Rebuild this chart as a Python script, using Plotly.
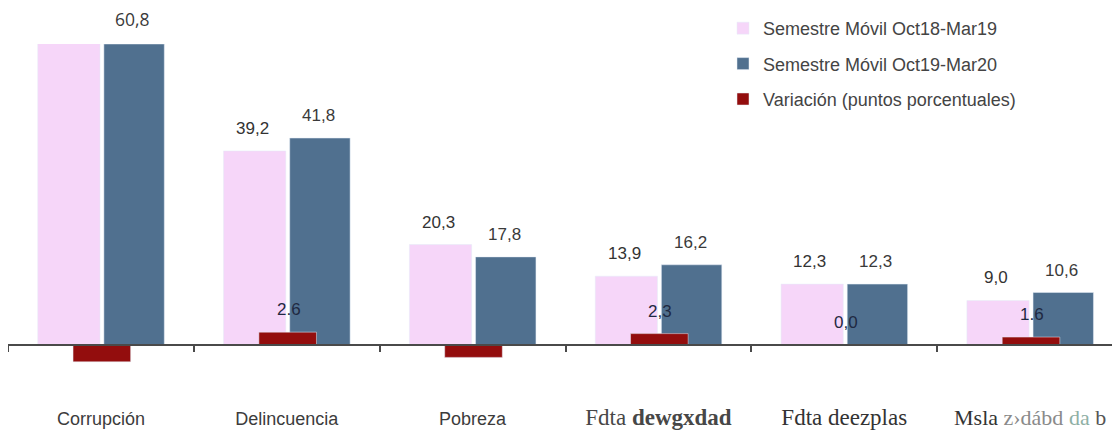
import plotly.graph_objects as go

categories = ["Corrupción", "Delincuencia", "Pobreza", "Fdta dewgxdad", "Fdta deezplas", "Msla z›dábd da b"]
tick_labels = [
    "Corrupción",
    "Delincuencia",
    "Pobreza",
    '<span style="font-family:Liberation Serif;font-size:23px;color:#474747">Fdta <b>dewgxdad</b></span>',
    '<span style="font-family:Liberation Serif;font-size:23px;color:#333">Fdta deezplas</span>',
    '<span style="font-family:Liberation Serif;font-size:22px;color:#333">Msla <span style="color:#8a8a8a">z›dábd</span> <span style="color:#8fb0a5">da</span> <span style="color:#555">b</span></span>',
]
series_names = ["Semestre Móvil Oct18-Mar19", "Semestre Móvil Oct19-Mar20", "Variación (puntos porcentuales)"]
prev_values = [64.2, 39.2, 20.3, 13.9, 12.3, 9.0]
curr_values = [60.8, 41.8, 17.8, 16.2, 12.3, 10.6]
var_values = [-3.4, 2.6, -2.5, 2.3, 0.0, 1.6]
prev_labels = ["", "39,2", "20,3", "13,9", "12,3", "9,0"]
curr_labels = ["60,8", "41,8", "17,8", "16,2", "12,3", "10,6"]
var_labels = ["", "2.6", "", "2,3", "0,0", "1.6"]

PINK = "#f6d6f9"
BLUE = "#50708f"
RED = "#930d0d"

# the page body adds an 8px offset; margins below compensate for it
TOP, PLOT_H = 36, 398
Y_MAX = 60.8
Y_MIN = -Y_MAX * 97 / 301

fig = go.Figure()
fig.add_trace(go.Bar(x=categories, y=prev_values, name=series_names[0], marker_color=PINK,
                     offset=-0.34, width=0.335, legendgroup="a", hoverinfo="skip"))
fig.add_trace(go.Bar(x=categories, y=curr_values, name=series_names[1], marker_color=BLUE,
                     offset=0.016, width=0.325, legendgroup="b", hoverinfo="skip"))
fig.add_trace(go.Bar(x=categories, y=var_values, name=series_names[2], marker_color=RED,
                     offset=-0.15, width=0.31, legendgroup="c", hoverinfo="skip"))

annotations = []
for i in range(len(categories)):
    if prev_labels[i]:
        annotations.append(dict(x=i - 0.185, y=prev_values[i], text=prev_labels[i], showarrow=False,
                                yanchor="bottom", yshift=11,
                                font=dict(family="Liberation Sans", size=17, color="#333")))
    if curr_labels[i]:
        fam = "Open Sans" if i == 0 else "Liberation Sans"
        annotations.append(dict(x=i + 0.17, y=curr_values[i], text=curr_labels[i], showarrow=False,
                                yanchor="bottom", yshift=11,
                                font=dict(family=fam, size=17.5 if i == 0 else 17, color="#3a3a3a")))
    if var_labels[i]:
        annotations.append(dict(x=i + 0.01, y=max(var_values[i], 0), text=var_labels[i], showarrow=False,
                                yanchor="bottom", yshift=11,
                                font=dict(family="Liberation Sans", size=17, color="#1f2942")))

zero_pos = (0 - Y_MIN) / (Y_MAX - Y_MIN)

fig.update_layout(
    width=1120, height=TOP + PLOT_H,
    margin=dict(l=0, r=5, t=TOP, b=0, autoexpand=False),
    paper_bgcolor="white", plot_bgcolor="white",
    barmode="overlay",
    annotations=annotations,
    xaxis=dict(
        type="category", range=[-0.5, 5.5],
        tickmode="array", tickvals=categories, ticktext=tick_labels,
        anchor="free", position=zero_pos, tickangle=0, automargin=False,
        showline=True, linecolor="#4a4a4a", linewidth=2,
        ticks="outside", tickson="boundaries", ticklen=6, tickwidth=2, tickcolor="#4a4a4a",
        ticklabelstandoff=57,
        tickfont=dict(family="Liberation Sans", size=18, color="#3c3c3c"),
        showgrid=False, zeroline=False,
    ),
    yaxis=dict(range=[Y_MIN, Y_MAX], visible=False, showgrid=False, zeroline=False),
    showlegend=True,
    legend=dict(
        x=(723 - 8) / 1115, y=1 + (TOP - 2) / PLOT_H,
        xanchor="left", yanchor="top",
        font=dict(family="Liberation Sans", size=18, color="#444"),
        tracegroupgap=9, bgcolor="rgba(0,0,0,0)",
    ),
)

fig.write_html("out.html")
